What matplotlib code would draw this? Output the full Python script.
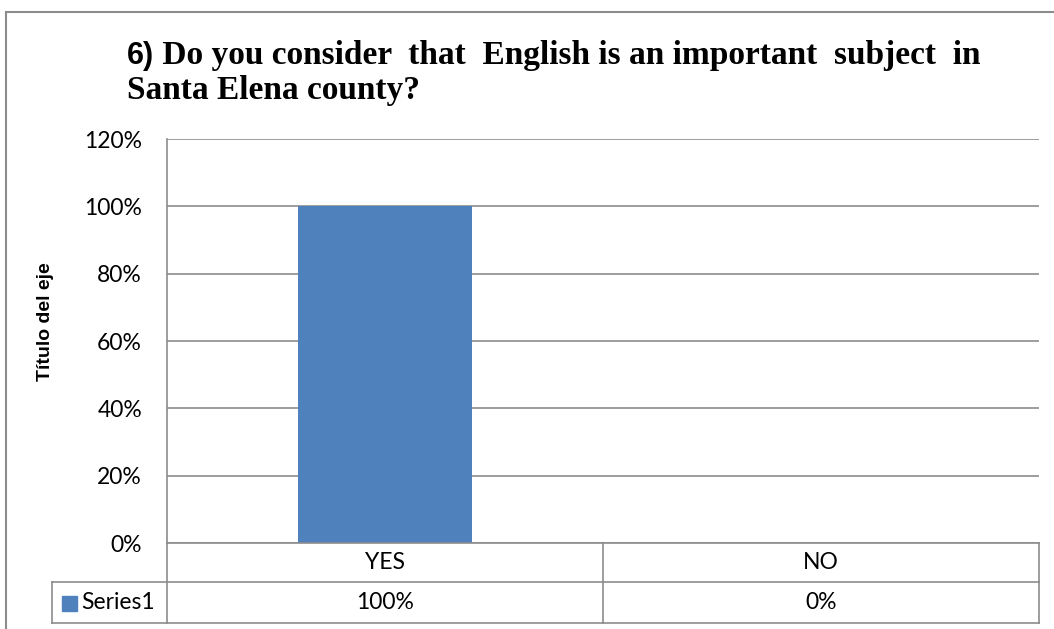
import matplotlib
matplotlib.use("Agg")
import matplotlib.pyplot as plt
from matplotlib.lines import Line2D
from matplotlib.patches import Rectangle
from matplotlib.ticker import FuncFormatter

categories = ["YES", "NO"]
values = [1.00, 0.00]
value_labels = ["100%", "0%"]
series_name = "Series1"
yticks = [0.0, 0.2, 0.4, 0.6, 0.8, 1.0, 1.2]
title_num = "6)"
title_line1 = " Do you consider  that  English is an important  subject  in"
title_line2 = "Santa Elena county?"
ylabel = "Título del eje"

W, H = 1054, 629
DPI = 100
fig = plt.figure(figsize=(W / DPI, H / DPI), dpi=DPI)
fig.patch.set_facecolor("white")

GRID = "#8c8c8c"
BAR = "#4f81bd"
SANS = ["Lato", "DejaVu Sans"]
SANS_B = ["Liberation Sans", "DejaVu Sans"]
SERIF = ["Liberation Serif", "DejaVu Serif"]
FS = 16.5

def fx(px):
    return px / W

def fy(py):
    return 1 - py / H

# plot area
L, T, R, B = 167, 139, 1039, 543
ax = fig.add_axes([fx(L), fy(B), fx(R - L), (B - T) / H])
x = list(range(len(categories)))
ax.bar(x, values, width=0.4, color=BAR, zorder=3)
ax.set_xlim(-0.5, len(categories) - 0.5)
ax.set_ylim(0, 1.2)
ax.set_yticks(yticks)
ax.yaxis.set_major_formatter(FuncFormatter(lambda v, p: f"{v*100:.0f}%"))
ax.tick_params(axis="y", length=0, pad=18, labelsize=FS, labelcolor="black")
for lab in ax.get_yticklabels():
    lab.set_family(SANS)
ax.set_xticks([])
for s in ["top", "right", "bottom"]:
    ax.spines[s].set_visible(False)
ax.spines["left"].set_color(GRID)
ax.spines["left"].set_linewidth(1.2)
ax.grid(axis="y", color=GRID, linewidth=1.2, zorder=0)
ax.set_axisbelow(True)

# axis title
fig.text(fx(46), fy(322), ylabel, rotation=90, ha="center", va="center",
         fontsize=14, fontweight="bold", family=SANS_B)

# data table below plot
row1_b, row2_b = 582, 623
tbl_left = 52
lw = 1.2
def hline(y, x0, x1):
    fig.add_artist(Line2D([fx(x0), fx(x1)], [fy(y), fy(y)], color=GRID, lw=lw))
def vline(xp, y0, y1):
    fig.add_artist(Line2D([fx(xp), fx(xp)], [fy(y0), fy(y1)], color=GRID, lw=lw))

hline(B, L, R)
hline(row1_b, tbl_left, R)
hline(row2_b, tbl_left, R)
vline(L, B, row2_b)
vline(R, B, row2_b)
vline(tbl_left, row1_b, row2_b)
ncat = len(categories)
cw = (R - L) / ncat
for i, (c, v) in enumerate(zip(categories, value_labels)):
    cx = L + cw * (i + 0.5)
    if i > 0:
        vline(L + cw * i, B, row2_b)
    fig.text(fx(cx), fy((B + row1_b) / 2), c, ha="center", va="center",
             fontsize=FS, family=SANS)
    fig.text(fx(cx), fy((row1_b + row2_b) / 2), v, ha="center", va="center",
             fontsize=FS, family=SANS)
fig.add_artist(Rectangle((fx(62), fy(611)), fx(15), 15 / H, color=BAR))
fig.text(fx(81), fy((row1_b + row2_b) / 2), series_name, ha="left", va="center",
         fontsize=FS, family=SANS)

# outer chart border
fig.add_artist(Line2D([fx(6), fx(6)], [fy(12), 0], color=GRID, lw=1.5))
fig.add_artist(Line2D([fx(6), 1], [fy(12), fy(12)], color=GRID, lw=1.5))

# title
t6 = fig.text(fx(127), fy(64), title_num, ha="left", va="baseline",
              fontsize=22, fontweight="bold", family=SANS_B)
fig.canvas.draw()
bb = t6.get_window_extent(fig.canvas.get_renderer())
fig.text(bb.x1 / W, fy(64), title_line1, ha="left", va="baseline",
         fontsize=24, fontweight="bold", family=SERIF)
fig.text(fx(127), fy(99), title_line2, ha="left", va="baseline",
         fontsize=24, fontweight="bold", family=SERIF)

fig.savefig("out.png", dpi=DPI)
